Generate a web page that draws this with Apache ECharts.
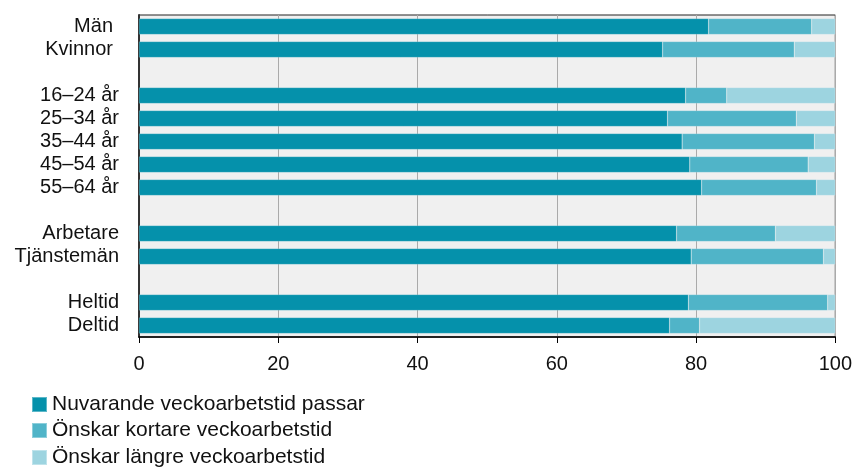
<!DOCTYPE html>
<html><head><meta charset="utf-8">
<script src="https://cdn.jsdelivr.net/npm/echarts@6/dist/echarts.min.js"></script>
<style>html,body{margin:0;padding:0;background:#fff}#c{width:855px;height:467px}</style>
</head><body><div id="c"></div>
<script>
const categories = ['Män','Kvinnor','','16–24 år','25–34 år','35–44 år','45–54 år','55–64 år','','Arbetare','Tjänstemän','','Heltid','Deltid'];
const seriesNames = ['Nuvarande veckoarbetstid passar','Önskar kortare veckoarbetstid','Önskar längre veckoarbetstid'];
const current = [81.8, 75.2, null, 78.5, 75.9, 78.0, 79.1, 80.8, null, 77.2, 79.3, null, 78.9, 76.2];
const shorter = [14.8, 18.9, null, 5.9, 18.5, 19.0, 17.0, 16.5, null, 14.2, 19.0, null, 20.0, 4.3];
const longer  = [3.4, 5.9, null, 15.6, 5.6, 3.0, 3.9, 2.7, null, 8.6, 1.7, null, 1.1, 19.5];
const xTicks = [0, 20, 40, 60, 80, 100];
const colors = ['#0591ab', '#50b4c8', '#9dd4e0'];

const chart = echarts.init(document.getElementById('c'));
const font = 'Liberation Sans, Arial, sans-serif';
const mk = (name, data, i) => ({
  name, type: 'bar', stack: 'a', data, barWidth: 16,
  itemStyle: {color: colors[i], borderColor: 'rgba(255,255,255,0.35)', borderWidth: 0.5},
  emphasis: {disabled: true}
});
const legendTops = [394, 420, 447];
chart.setOption({
  animation: false,
  textStyle: {fontFamily: font},
  grid: {left: 139, right: 19, top: 15, bottom: 130, show: true, backgroundColor: '#f0f0f0', borderColor: '#222', borderWidth: 1},
  legend: seriesNames.map((n, i) => ({
    orient: 'vertical', left: 31, top: legendTops[i], itemWidth: 15, itemHeight: 15, itemGap: 0,
    icon: 'rect', padding: 0, selectedMode: false,
    textStyle: {fontSize: 21, color: '#111', fontFamily: font, padding: [0, 0, 0, 0]},
    data: [n]
  })),
  xAxis: {
    type: 'value', min: xTicks[0], max: xTicks[xTicks.length-1], interval: 20,
    axisLine: {show: true, lineStyle: {color: '#000', width: 1.5}},
    axisTick: {show: true, length: 6, lineStyle: {color: '#000'}},
    axisLabel: {fontSize: 20, color: '#111', margin: 17, fontFamily: font},
    splitLine: {show: true, lineStyle: {color: '#aaa', width: 1}}
  },
  yAxis: {
    type: 'category', data: categories, inverse: true,
    axisLine: {show: true, lineStyle: {color: '#333', width: 2}},
    axisTick: {show: false},
    axisLabel: {fontSize: 20, color: '#111', margin: 20, fontFamily: font, interval: 0, hideOverlap: false,
      formatter: v => (v === 'Män' || v === 'Kvinnor') ? '{p|' + v + '}' : v,
      rich: {p: {fontSize: 20, color: '#111', fontFamily: font, padding: [0, 6, 0, 0]}}}
  },
  series: [mk(seriesNames[0], current, 0), mk(seriesNames[1], shorter, 1), mk(seriesNames[2], longer, 2)]
});
</script></body></html>
